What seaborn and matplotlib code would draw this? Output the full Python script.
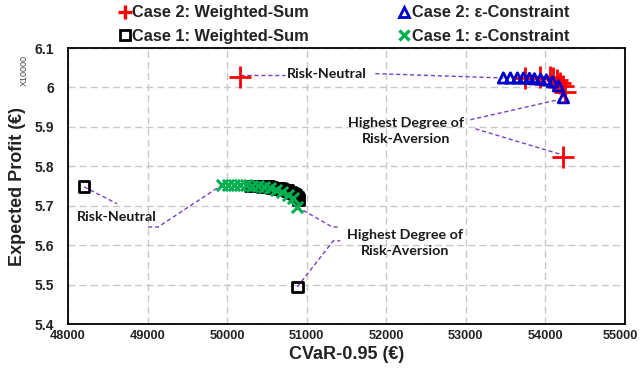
import matplotlib
matplotlib.use("Agg")
import matplotlib.pyplot as plt
import matplotlib.transforms as mtransforms
import seaborn as sns
from matplotlib.lines import Line2D

# data: CVaR-0.95 in EUR, expected profit in units of 10000 EUR
c2_ws_cvar = [50164, 53749, 53938, 54060, 54100, 54140, 54180, 54215, 54250, 54227]
c2_ws_profit = [6.027, 6.024, 6.027, 6.026, 6.023, 6.018, 6.012, 6.004, 5.988, 5.824]

c2_ec_cvar = [53472, 53560, 53648, 53724, 53799, 53862, 53938, 54013, 54089,
              54164, 54227]
c2_ec_profit = [6.024, 6.024, 6.024, 6.024, 6.023, 6.022, 6.021, 6.019, 6.014,
                6.004, 5.974]

c1_ws_cvar = [48201, 50290, 50330, 50365, 50400, 50440, 50480, 50516, 50555,
              50591, 50630, 50667, 50700, 50730, 50760, 50793, 50820, 50843,
              50865, 50881, 50900, 50881]
c1_ws_profit = [5.748, 5.750, 5.750, 5.750, 5.750, 5.749, 5.749, 5.748, 5.746,
                5.745, 5.744, 5.743, 5.741, 5.740, 5.738, 5.735, 5.732, 5.730,
                5.726, 5.722, 5.716, 5.494]

c1_ec_cvar = [49937, 50013, 50088, 50164, 50239, 50315, 50390, 50466, 50541,
              50617, 50692, 50768, 50831, 50881]
c1_ec_profit = [5.753, 5.753, 5.753, 5.753, 5.753, 5.750, 5.750, 5.748, 5.745,
                5.740, 5.735, 5.727, 5.720, 5.697]

x_ticks = [48000, 49000, 50000, 51000, 52000, 53000, 54000, 55000]
y_ticks = [5.4, 5.5, 5.6, 5.7, 5.8, 5.9, 6.0, 6.1]
y_tick_labels = ["5.4", "5.5", "5.6", "5.7", "5.8", "5.9", "6", "6.1"]

RED = "#FF0000"
BLUE = "#0000CC"
BLACK = "#000000"
GREEN = "#00B050"
PURPLE = "#7B3FC4"

sns.set_style("white")
plt.rcParams["font.family"] = ["Liberation Sans", "DejaVu Sans"]

fig = plt.figure(figsize=(6.41, 3.78), dpi=100)
ax = fig.add_axes([68 / 641, 1 - 324 / 378, 557 / 641, 276 / 378])

# dashed leader lines for the annotations
lead = dict(color=PURPLE, lw=1, ls=(0, (3, 2)), zorder=1)
# case 2
ax.plot([c2_ws_cvar[0], 50730], [6.031, 6.031], **lead)
ax.plot([51862, c2_ec_cvar[0]], [6.035, c2_ec_profit[0]], **lead)
ax.plot([53057, c2_ec_cvar[-1] - 60], [5.918, c2_ec_profit[-1] - 0.005], **lead)
ax.plot([53120, c2_ws_cvar[-1] - 15], [5.895, c2_ws_profit[-1] + 0.005], **lead)
# case 1
ax.plot([c1_ws_cvar[0], 48616], [c1_ws_profit[0], 5.705], **lead)
ax.plot([49006, 49132, c1_ec_cvar[0]], [5.646, 5.646, c1_ec_profit[0]], **lead)
ax.plot([c1_ec_cvar[-1], 51321, 51422], [c1_ec_profit[-1], 5.646, 5.646], **lead)
ax.plot([c1_ws_cvar[-1], 51334, 51422], [c1_ws_profit[-1], 5.611, 5.611], **lead)

# series
sns.scatterplot(x=c1_ws_cvar, y=c1_ws_profit, marker="s", s=60,
                facecolor="none", edgecolor=BLACK, linewidth=2, ax=ax, zorder=3)
sns.scatterplot(x=c1_ec_cvar, y=c1_ec_profit, marker="x", s=65,
                color=GREEN, linewidth=2.2, ax=ax, zorder=4)
sns.scatterplot(x=c2_ws_cvar, y=c2_ws_profit, marker="+", s=250,
                color=RED, linewidth=2, ax=ax, zorder=2)
sns.scatterplot(x=c2_ec_cvar, y=c2_ec_profit, marker="^", s=55,
                facecolor="none", edgecolor=BLUE, linewidth=2, ax=ax, zorder=3)

# annotation texts
tfont = dict(family=["Lato", "DejaVu Sans"], fontsize=10.3, fontweight="bold",
             color="#1a1a1a", ha="center", va="center", linespacing=1.45)
ax.text(51258, 6.035, "Risk-Neutral", **tfont)
ax.text(52250, 5.890, "Highest Degree of\nRisk-Aversion", **tfont)
ax.text(48616, 5.672, "Risk-Neutral", **tfont)
ax.text(52240, 5.606, "Highest Degree of\nRisk-Aversion", **tfont)

ax.set_xlim(48000, 55000)
ax.set_ylim(5.4, 6.1)
ax.set_xticks(x_ticks)
ax.set_yticks(y_ticks)
ax.set_yticklabels(y_tick_labels)
ax.tick_params(axis="x", length=0, labelsize=9.2, pad=4)
ax.tick_params(axis="y", length=0, labelsize=10, pad=10)
for lab in ax.get_xticklabels() + ax.get_yticklabels():
    lab.set_fontweight("bold")
    lab.set_color("#222222")
# nudge the last x label so it stays inside the canvas
last = ax.get_xticklabels()[-1]
last.set_transform(last.get_transform() + mtransforms.ScaledTranslation(-3 / 72, 0, fig.dpi_scale_trans))

ax.grid(True, color="#C8C8C8", lw=1, ls=(0, (5, 3)))
ax.set_axisbelow(True)
for side in ["left", "bottom", "top", "right"]:
    ax.spines[side].set_visible(True)
    ax.spines[side].set_color("black")
    ax.spines[side].set_linewidth(1.3)

ax.set_xlabel("CVaR-0.95 (€)", fontsize=13, fontweight="bold", color="#222222", labelpad=3)
ax.set_ylabel("Expected Profit (€)", fontsize=13, fontweight="bold", color="#222222", labelpad=6.5)
fig.text(24 / 641, 1 - 70 / 378, "X10000", rotation=90, fontsize=6.5,
         color="#444444", ha="center", va="center")

handles = [
    Line2D([], [], ls="none", marker="+", ms=10, mew=2.4, color=RED),
    Line2D([], [], ls="none", marker="s", ms=7, mew=2, mfc="none", mec=BLACK),
    Line2D([], [], ls="none", marker="^", ms=7.5, mew=2, mfc="none", mec=BLUE),
    Line2D([], [], ls="none", marker="x", ms=7.5, mew=2.4, color=GREEN),
]
labels = ["Case 2: Weighted-Sum", "Case 1: Weighted-Sum",
          "Case 2: ε-Constraint", "Case 1: ε-Constraint"]
leg = fig.legend(handles, labels, ncol=2, loc="center", bbox_to_anchor=(344 / 641, 1 - 24.5 / 378),
                 frameon=False, handlelength=0.7, handletextpad=0.12, columnspacing=5.45,
                 labelspacing=0.5, prop=dict(family="Liberation Sans", weight="bold", size=11.8))
for t in leg.get_texts():
    t.set_color("#222222")

fig.savefig("out.png", dpi=100)
